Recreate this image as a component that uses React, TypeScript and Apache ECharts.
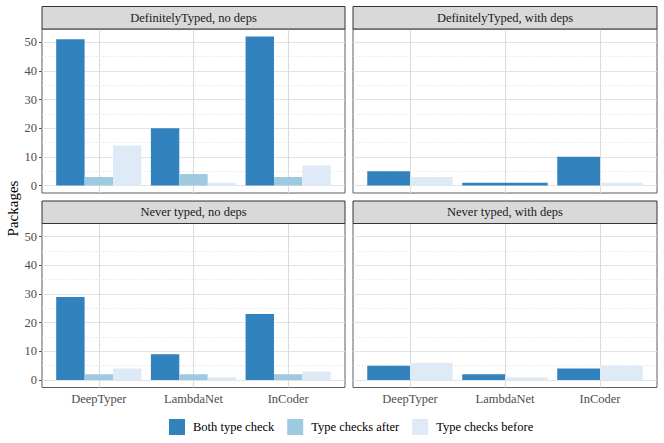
import React, { useEffect, useRef } from "react";
import * as echarts from "echarts";

const categories = ["DeepTyper", "LambdaNet", "InCoder"];
const seriesNames = ["Both type check", "Type checks after", "Type checks before"];
const seriesColors = ["#3182bd", "#9ecae1", "#deebf7"];
const panelTitles = [
  "DefinitelyTyped, no deps",
  "DefinitelyTyped, with deps",
  "Never typed, no deps",
  "Never typed, with deps",
];

const dtNoDepsBoth = [51, 20, 52];
const dtNoDepsAfter = [3, 4, 3];
const dtNoDepsBefore = [14, 1, 7];

const dtDepsBoth = [5, 1, 10];
const dtDepsAfter = [null, null, null];
const dtDepsBefore = [3, null, 1];

const ntNoDepsBoth = [29, 9, 23];
const ntNoDepsAfter = [2, 2, 2];
const ntNoDepsBefore = [4, 1, 3];

const ntDepsBoth = [5, 2, 4];
const ntDepsAfter = [null, null, null];
const ntDepsBefore = [6, 1, 5];

const yTicks = [0, 10, 20, 30, 40, 50];
const yMinorTicks = [5, 15, 25, 35, 45];
const xPositions = [1, 2, 3];

const panels = [
  [dtNoDepsBoth, dtNoDepsAfter, dtNoDepsBefore],
  [dtDepsBoth, dtDepsAfter, dtDepsBefore],
  [ntNoDepsBoth, ntNoDepsAfter, ntNoDepsBefore],
  [ntDepsBoth, ntDepsAfter, ntDepsBefore],
];

const FONT = "'Liberation Serif', 'Times New Roman', serif";

const grids = [
  { left: 42, top: 29, width: 303, height: 164 },
  { left: 353, top: 29, width: 304, height: 164 },
  { left: 42, top: 223.5, width: 303, height: 164 },
  { left: 353, top: 223.5, width: 304, height: 164 },
];
const STRIP_H = 22.5;

function buildOption() {
  const series: any[] = [];
  const xAxis: any[] = [];
  const yAxis: any[] = [];
  const graphic: any[] = [];

  panels.forEach((panel, p) => {
    const isLeft = p % 2 === 0;
    const isBottom = p >= 2;
    xAxis.push({
      gridIndex: p,
      type: "value",
      min: 0.4,
      max: 3.6,
      axisLine: { show: false },
      splitLine: { show: false },
      axisTick: {
        show: isBottom,
        customValues: xPositions,
        length: 3,
        lineStyle: { color: "#555", width: 1 },
      },
      axisLabel: {
        show: isBottom,
        customValues: xPositions,
        formatter: (v: number) => categories[Math.round(v) - 1] ?? "",
        color: "#4d4d4d",
        fontFamily: FONT,
        fontSize: 12.5,
        margin: 5,
      },
    });
    yAxis.push({
      gridIndex: p,
      type: "value",
      min: -2.6,
      max: 54.6,
      axisLine: { show: false },
      splitLine: { show: false },
      axisTick: {
        show: isLeft,
        customValues: yTicks,
        length: 3,
        lineStyle: { color: "#555", width: 1 },
      },
      axisLabel: {
        show: isLeft,
        customValues: yTicks,
        color: "#4d4d4d",
        fontFamily: FONT,
        fontSize: 12.5,
        margin: 5,
      },
    });

    // gridlines via markLine (below the bars)
    series.push({
      type: "line",
      xAxisIndex: p,
      yAxisIndex: p,
      data: [],
      z: 1,
      silent: true,
      markLine: {
        silent: true,
        z: 1,
        symbol: "none",
        label: { show: false },
        animation: false,
        emphasis: { disabled: true },
        data: [
          ...yMinorTicks.map((v) => ({
            yAxis: v,
            lineStyle: { color: "#d2d2d2", width: 0.7, type: [1, 2] },
          })),
          ...yTicks.map((v) => ({
            yAxis: v,
            lineStyle: { color: "#e4e4e4", width: 1.1, type: "solid" },
          })),
          ...xPositions.map((v) => ({
            xAxis: v,
            lineStyle: { color: "#dcdcdc", width: 1.1, type: "solid" },
          })),
        ],
      },
    });

    // bars with ggplot-like dodge (only present groups)
    seriesNames.forEach((name, s) => {
      const data: any[] = [];
      categories.forEach((_, c) => {
        const present = panel
          .map((arr, k) => (arr[c] != null ? k : -1))
          .filter((k) => k >= 0);
        const v = panel[s][c];
        if (v == null) return;
        data.push([xPositions[c], v, present.indexOf(s), present.length]);
      });
      series.push({
        type: "custom",
        name,
        xAxisIndex: p,
        yAxisIndex: p,
        z: 5,
        itemStyle: { color: seriesColors[s] },
        encode: { x: 0, y: 1 },
        data,
        renderItem: (params: any, api: any) => {
          const x = api.value(0);
          const y = api.value(1);
          const slot = api.value(2);
          const n = api.value(3);
          const base = api.coord([x, 0]);
          const top = api.coord([x, y]);
          const band = api.size([1, 0])[0];
          const total = band * 0.9;
          const w = total / n;
          const left = base[0] - total / 2 + slot * w;
          return {
            type: "rect",
            shape: { x: left, y: top[1], width: w, height: base[1] - top[1] },
            style: { fill: seriesColors[s] },
          };
        },
      });
    });

    const g = grids[p];
    graphic.push({
      type: "rect",
      shape: { x: g.left, y: g.top - STRIP_H, width: g.width, height: STRIP_H },
      style: { fill: "#d9d9d9", stroke: "#333333", lineWidth: 1 },
      z: 10,
    });
    graphic.push({
      type: "text",
      x: g.left + g.width / 2,
      y: g.top - STRIP_H / 2,
      style: {
        text: panelTitles[p],
        fill: "#1a1a1a",
        fontFamily: FONT,
        fontSize: 12.5,
        textAlign: "center",
        textVerticalAlign: "middle",
      },
      z: 11,
    });
  });

  graphic.push({
    type: "text",
    x: 12.5,
    y: 208.5,
    rotation: Math.PI / 2,
    style: {
      text: "Packages",
      fill: "#000000",
      fontFamily: FONT,
      fontSize: 15,
      textAlign: "center",
      textVerticalAlign: "middle",
    },
    z: 11,
  });

  return {
    animation: false,
    backgroundColor: "#ffffff",
    grid: grids.map((g) => ({
      ...g,
      show: true,
      borderColor: "#5f5f5f",
      borderWidth: 1,
      backgroundColor: "transparent",
      containLabel: false,
    })),
    xAxis,
    yAxis,
    legend: {
      data: seriesNames,
      left: 164,
      top: 414,
      itemWidth: 16,
      itemHeight: 16,
      itemGap: 13,
      icon: "rect",
      selectedMode: false,
      textStyle: {
        fontFamily: FONT,
        fontSize: 12.5,
        color: "#000000",
        padding: [0, 0, 0, 3],
      },
    },
    graphic,
    series,
  };
}

export default function App() {
  const ref = useRef<HTMLDivElement>(null);
  useEffect(() => {
    document.body.style.margin = "0";
    if (!ref.current) return;
    const chart = echarts.init(ref.current, undefined, { renderer: "svg" });
    chart.setOption(buildOption() as any);
    return () => chart.dispose();
  }, []);
  return <div ref={ref} style={{ width: 664, height: 443 }} />;
}
